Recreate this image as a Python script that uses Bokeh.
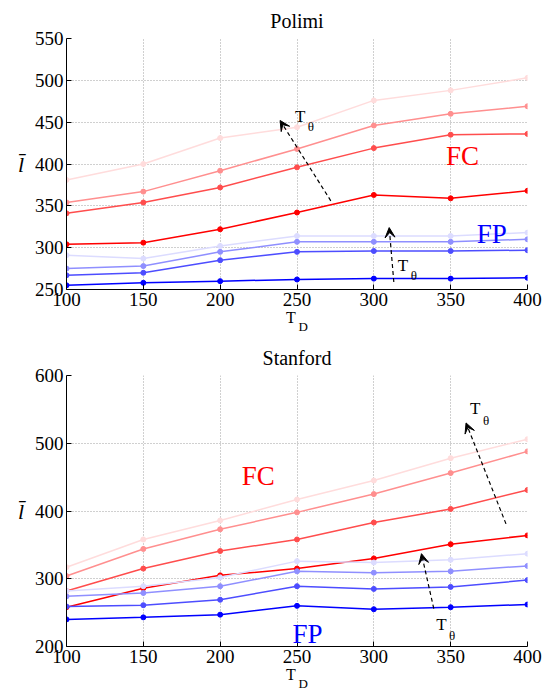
from bokeh.plotting import figure
from bokeh.layouts import column
from bokeh.models import Label, Arrow, VeeHead, FixedTicker, Range1d, LinearAxis
from bokeh.embed import file_html
from bokeh.resources import INLINE

# ---------------- data ----------------
t_d = [100, 150, 200, 250, 300, 350, 400]

# Polimi (darkest -> lightest, T_theta increasing)
polimi_fc = [
    [304, 306, 322, 342, 363, 359, 368],
    [341, 354, 372, 396, 419, 435, 436],
    [354, 367, 392, 418, 446, 460, 469],
    [381, 400, 431, 444, 476, 488, 503],
]
polimi_fp = [
    [255, 258, 260, 262, 263, 263, 264],
    [267, 270, 285, 295, 296, 296, 297],
    [275, 278, 295, 307, 307, 307, 310],
    [291, 287, 302, 314, 314, 314, 318],
]

# Stanford
stanford_fc = [
    [258, 286, 305, 315, 330, 351, 364],
    [282, 315, 341, 358, 383, 403, 431],
    [304, 344, 373, 398, 425, 456, 488],
    [317, 358, 386, 417, 445, 478, 506],
]
stanford_fp = [
    [240, 243, 247, 260, 255, 258, 262],
    [259, 261, 269, 289, 285, 288, 298],
    [274, 279, 289, 311, 309, 311, 319],
    [282, 289, 302, 326, 324, 328, 337],
]

x_ticks = [100, 150, 200, 250, 300, 350, 400]
polimi_y_ticks = [250, 300, 350, 400, 450, 500, 550]
stanford_y_ticks = [200, 300, 400, 500, 600]

red_shades = ["#ff0000", "#ff4d4d", "#ff8f8f", "#ffdcdc"]
blue_shades = ["#0000ff", "#4d4dff", "#8f8fff", "#dcdcff"]

SERIF = "Liberation Serif"
SUB_POS = 254  # x position of the "D" subscript of the x-axis label


def make_fig(title, fc, fp, yticks, ylo, yhi, width, height, bl, br, bt, bb):
    p = figure(width=width, height=height, output_backend="svg",
               toolbar_location=None, x_range=Range1d(100, 400),
               y_range=Range1d(ylo, yhi), min_border_left=bl,
               min_border_right=br, min_border_top=bt, min_border_bottom=bb)
    p.title.text = title
    p.title.text_font = SERIF
    p.title.text_font_size = "20px"
    p.title.text_font_style = "normal"
    p.title.text_color = "black"
    p.title.align = "center"
    p.title.standoff = 14
    p.outline_line_color = None
    p.background_fill_color = "white"
    p.border_fill_color = "white"

    p.xaxis.ticker = FixedTicker(ticks=x_ticks)
    p.yaxis.ticker = FixedTicker(ticks=yticks)
    for ax in (p.xaxis[0], p.yaxis[0]):
        ax.major_tick_in = 5
        ax.major_tick_out = 0
        ax.minor_tick_in = 0
        ax.minor_tick_out = 0
        ax.axis_line_color = "black"
        ax.major_tick_line_color = "black"
        ax.major_label_text_font = SERIF
        ax.major_label_text_font_size = "19px"
        ax.major_label_text_color = "black"
        ax.major_label_standoff = 3
    p.yaxis.axis_label = "l\u0304"
    p.yaxis.axis_label_orientation = "horizontal"
    p.yaxis.axis_label_text_font = SERIF
    p.yaxis.axis_label_text_font_style = "italic"
    p.yaxis.axis_label_text_font_size = "22px"
    p.yaxis.axis_label_text_color = "black"
    p.yaxis.axis_label_standoff = 8

    p.xaxis.axis_label = "T\u00a0\u00a0\u00a0"
    p.xaxis.axis_label_text_font = SERIF
    p.xaxis.axis_label_text_font_style = "normal"
    p.xaxis.axis_label_text_font_size = "16px"
    p.xaxis.axis_label_text_color = "black"
    p.xaxis.axis_label_standoff = 0

    # subscript "D" of the x-axis label, as a tick-less second axis
    sub = LinearAxis(ticker=FixedTicker(ticks=[SUB_POS]),
                     major_label_overrides={SUB_POS: "D"},
                     axis_line_color=None, major_tick_line_color=None,
                     minor_tick_line_color=None,
                     major_label_text_font=SERIF,
                     major_label_text_font_size="13px",
                     major_label_text_color="black",
                     major_label_standoff=-16)
    p.add_layout(sub, "below")

    p.grid.grid_line_color = "#a0a0a0"
    p.grid.grid_line_dash = "1 2"
    p.grid.grid_line_width = 1

    for ys, c in zip(fc, red_shades):
        p.line(t_d, ys, color=c, line_width=1.5)
        p.scatter(t_d, ys, color=c, size=5)
    for ys, c in zip(fp, blue_shades):
        p.line(t_d, ys, color=c, line_width=1.5)
        p.scatter(t_d, ys, color=c, size=5)
    return p


def add_label(p, x, y, text, color="black", size="16px", align="center"):
    p.add_layout(Label(x=x, y=y, text=text, text_color=color,
                       text_font=SERIF, text_font_size=size,
                       text_align=align, text_baseline="middle"))


def add_ttheta(p, x, y, dx, dy):
    add_label(p, x, y, "T", size="17px")
    add_label(p, x + dx, y + dy, "\u03b8", size="13px")


def add_arrow(p, x0, y0, x1, y1):
    p.add_layout(Arrow(end=VeeHead(size=10, fill_color="black",
                                   line_color="black", line_width=1),
                       x_start=x0, y_start=y0, x_end=x1, y_end=y1,
                       line_dash="4 3", line_width=1.2, line_color="black"))


W = 542
p1 = make_fig("Polimi", polimi_fc, polimi_fp, polimi_y_ticks, 250, 550,
              W, 336, 66, 15, 37, 47)
p2 = make_fig("Stanford", stanford_fc, stanford_fp, stanford_y_ticks, 200, 600,
              W, 357, 66, 15, 39, 45)

# Polimi annotations
add_label(p1, 347, 410, "FC", color="#ff0000", size="27px", align="left")
add_label(p1, 367, 316, "FP", color="#0000ff", size="27px", align="left")
add_arrow(p1, 272, 356, 239, 452)
add_ttheta(p1, 252, 457, 7, -12)
add_arrow(p1, 313, 259, 310, 324)
add_ttheta(p1, 319, 279, 7, -12)

# Stanford annotations
add_label(p2, 214, 452, "FC", color="#ff0000", size="27px", align="left")
add_label(p2, 247, 218, "FP", color="#0000ff", size="27px", align="left")
add_arrow(p2, 386, 381, 360, 530)
add_ttheta(p2, 366, 551, 7, -17)
add_arrow(p2, 339, 256, 331, 337)
add_ttheta(p2, 344, 233, 7, -17)

layout = column(p1, p2)
open("out.html", "w").write(file_html(layout, INLINE))
